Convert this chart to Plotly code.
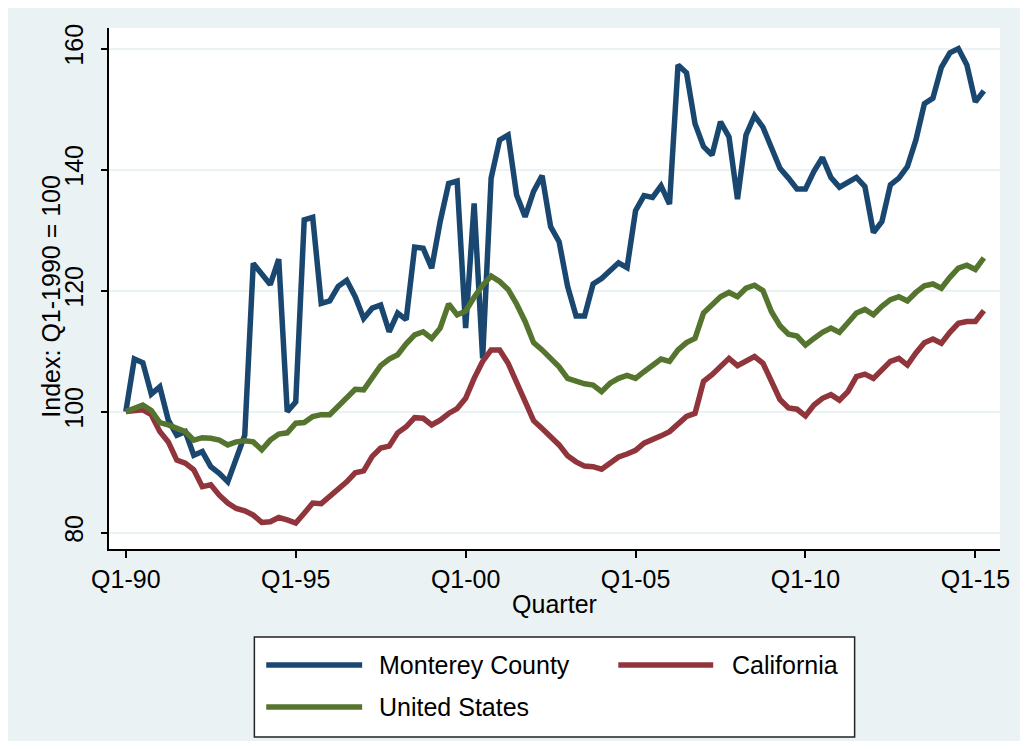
import plotly.graph_objects as go

# ---- data (quarterly index, Q1-1990 = 100), Q1-1990 .. Q2-2015 ----
years = list(range(1990, 2016))
quarters = [f"Q{q}-{str(y)[2:]}" for y in years for q in range(1, 5)][:102]

monterey = [100.0, 108.7, 108.1, 102.9, 104.1, 98.6, 96.1, 96.7, 92.8, 93.4,
            90.9, 89.8, 88.4, 92.3, 96.1, 124.5, 122.6, 121.0, 125.2, 100.0,
            101.6, 131.7, 132.1, 117.9, 118.3, 120.7, 121.7, 119.0, 115.4, 117.1,
            117.6, 113.2, 116.3, 115.2, 127.2, 127.0, 123.7, 131.4, 137.7, 138.1,
            113.8, 134.4, 108.8, 138.6, 144.9, 145.7, 135.8, 132.2, 136.4, 139.0,
            130.6, 128.1, 120.7, 115.8, 115.8, 121.1, 122.0, 123.4, 124.6, 123.8,
            133.2, 135.7, 135.4, 137.3, 134.3, 157.3, 156.0, 147.6, 143.8, 142.4,
            147.9, 145.4, 135.1, 145.7, 148.9, 147.0, 143.3, 140.2, 138.6, 136.8,
            136.8, 139.7, 142.0, 138.7, 137.1, 138.0, 138.7, 137.2, 129.6, 131.4,
            137.5, 138.6, 140.5, 144.9, 150.9, 151.8, 156.9, 159.3, 160.0, 157.3,
            151.2, 153.0]

california = [100.0, 100.2, 100.3, 99.5, 96.7, 95.0, 92.0, 91.5, 90.4, 87.6,
              87.9, 86.2, 84.9, 84.0, 83.6, 82.9, 81.7, 81.8, 82.5, 82.1,
              81.6, 83.2, 84.9, 84.8, 86.0, 87.1, 88.4, 89.9, 90.2, 92.6,
              94.0, 94.3, 96.5, 97.5, 99.0, 98.9, 97.8, 98.6, 99.7, 100.5,
              102.2, 105.5, 108.3, 110.2, 110.2, 108.0, 104.7, 101.7, 98.5, 97.2,
              95.9, 94.5, 92.7, 91.7, 91.0, 90.9, 90.5, 91.6, 92.5, 93.0,
              93.6, 94.8, 95.3, 96.0, 96.7, 98.1, 99.2, 99.7, 105.0, 106.1,
              107.4, 108.8, 107.6, 108.3, 109.1, 108.0, 105.0, 102.0, 100.6, 100.4,
              99.3, 101.1, 102.2, 102.8, 101.9, 103.3, 105.8, 106.2, 105.5, 106.9,
              108.3, 108.8, 107.7, 109.7, 111.4, 112.0, 111.3, 113.1, 114.6, 114.9,
              114.9, 116.7]

united_states = [100.0, 100.6, 101.1, 100.2, 98.2, 97.8, 97.2, 96.7, 95.3, 95.7,
                 95.6, 95.3, 94.5, 95.0, 95.2, 95.0, 93.7, 95.3, 96.3, 96.5,
                 98.1, 98.2, 99.2, 99.5, 99.5, 100.8, 102.4, 103.7, 103.6, 105.8,
                 107.6, 108.7, 109.4, 111.2, 112.7, 113.2, 112.1, 113.8, 117.8, 116.0,
                 116.6, 118.9, 120.9, 122.4, 121.5, 120.2, 117.8, 114.9, 111.4, 110.2,
                 108.8, 107.4, 105.5, 105.0, 104.6, 104.4, 103.3, 104.7, 105.5, 106.0,
                 105.5, 106.6, 107.7, 108.7, 108.3, 110.2, 111.4, 112.1, 116.3, 117.8,
                 119.0, 119.7, 119.0, 120.4, 120.9, 120.0, 116.5, 114.2, 112.8, 112.5,
                 111.0, 112.1, 113.1, 113.8, 113.1, 114.7, 116.3, 116.9, 116.0, 117.4,
                 118.5, 119.0, 118.3, 119.7, 120.8, 121.1, 120.4, 122.2, 123.7, 124.2,
                 123.5, 125.4]

series_names = ["Monterey County", "California", "United States"]
series_colors = ["#1A476F", "#90353B", "#55752F"]
tick_labels = ["Q1-90", "Q1-95", "Q1-00", "Q1-05", "Q1-10", "Q1-15"]
y_ticks = [80, 100, 120, 140, 160]

# ---- layout geometry (page pixels; the page body has an 8px margin) ----
OFF = 8
W, H = 1012, 733
L, R, T, B = 109, 1010, 28, 549          # plot area in page coordinates
pw, ph = R - L, B - T


def px(x):
    return (x - L) / pw


def py(y):
    return (B - y) / ph


FONT = "Liberation Sans, Arial, Helvetica, sans-serif"
BG = "#EAF2F3"
idx = list(range(len(quarters)))

fig = go.Figure()
for name, vals, col in zip(series_names, [monterey, california, united_states], series_colors):
    fig.add_trace(go.Scatter(x=idx, y=vals, mode="lines", name=name,
                             text=quarters, hovertemplate="%{text}: %{y}<extra>" + name + "</extra>",
                             line=dict(color=col, width=5.5), showlegend=False))

tick_idx = [quarters.index(t) for t in tick_labels]

shapes = [
    dict(type="rect", xref="paper", yref="paper", x0=px(256), x1=px(863), y0=py(637), y1=py(737),
         fillcolor="white", line=dict(color="#222222", width=1.5)),
]
annotations = [
    dict(xref="paper", yref="paper", x=px(50), y=py(296), text="Index: Q1-1990 = 100",
         textangle=-90, showarrow=False, xanchor="center", yanchor="middle",
         font=dict(family=FONT, size=25, color="black")),
]
legend_pos = [(268, 365, 380, 665), (624, 720, 737, 665), (268, 365, 380, 707)]
for (lx0, lx1, tx, ly), name, col in zip(legend_pos, series_names, series_colors):
    shapes.append(dict(type="line", xref="paper", yref="paper", x0=px(lx0), x1=px(lx1),
                       y0=py(ly), y1=py(ly), line=dict(color=col, width=5.5)))
    annotations.append(dict(xref="paper", yref="paper", x=px(tx), y=py(ly), text=name,
                            showarrow=False, xanchor="left", yanchor="middle",
                            font=dict(family=FONT, size=25, color="black")))

fig.update_layout(
    width=W, height=H,
    margin=dict(l=L - OFF, r=W - (R - OFF), t=T - OFF, b=H - (B - OFF), pad=0),
    paper_bgcolor=BG, plot_bgcolor="white",
    font=dict(family=FONT, size=25, color="black"),
    shapes=shapes, annotations=annotations,
    showlegend=False,
    xaxis=dict(range=[-1.98, 102.9], tickmode="array", tickvals=tick_idx, ticktext=tick_labels,
               showgrid=False, zeroline=False, showline=True, linecolor="black", linewidth=1.5,
               ticks="outside", ticklen=7, tickwidth=1.5, tickcolor="black",
               tickfont=dict(size=25), ticklabelstandoff=0,
               title=dict(text="Quarter", font=dict(size=25), standoff=4)),
    yaxis=dict(range=[77.3, 163.4], tickmode="array", tickvals=y_ticks,
               showgrid=True, gridcolor=BG, gridwidth=2, zeroline=False,
               showline=True, linecolor="black", linewidth=1.5,
               ticks="outside", ticklen=6, tickwidth=1.5, tickcolor="black",
               tickangle=-90, tickfont=dict(size=25), ticklabelstandoff=8),
)

fig.write_html("out.html")
